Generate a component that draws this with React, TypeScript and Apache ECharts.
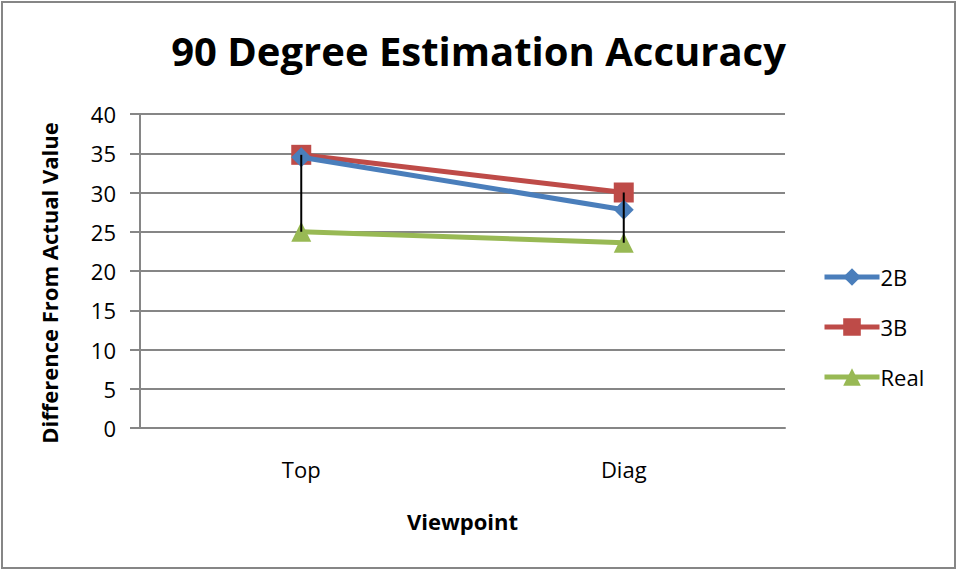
import React, { useEffect, useRef } from "react";
import * as echarts from "echarts";

const categories = ["Top", "Diag"];
const series2B = [34.5, 27.8];
const series3B = [34.8, 30.0];
const seriesReal = [25.0, 23.6];
const seriesNames = ["2B", "3B", "Real"];

const FONT = "'Open Sans', Lato, sans-serif";

export default function App() {
  const ref = useRef<HTMLDivElement>(null);
  useEffect(() => {
    if (!ref.current) return;
    const chart = echarts.init(ref.current, null, { renderer: "svg" });
    const all = [series2B, series3B, seriesReal];
    const hiLo = categories.map((_, i) => {
      const vals = all.map((s) => s[i]);
      return [i, Math.max(...vals), Math.min(...vals)];
    });
    chart.setOption({
      animation: false,
      backgroundColor: "#ffffff",
      textStyle: { fontFamily: FONT },
      title: {
        text: "90 Degree Estimation Accuracy",
        left: "center",
        top: 25,
        textStyle: { fontFamily: FONT, fontSize: 40, fontWeight: "bold", color: "#000" },
      },
      graphic: [
        {
          type: "rect",
          shape: { x: 2, y: 2, width: 953, height: 566 },
          style: { fill: "none", stroke: "#868686", lineWidth: 2 },
          silent: true,
        },
      ],
      legend: {
        orient: "vertical",
        left: 822,
        top: 266,
        padding: 0,
        itemWidth: 55,
        itemHeight: 22,
        itemGap: 28,
        data: seriesNames,
        lineStyle: { width: 5 },
        textStyle: { fontFamily: FONT, fontSize: 22, color: "#000", padding: [0, 0, 0, -4] },
      },
      grid: { left: 140, right: 172, top: 114, bottom: 143 },
      xAxis: {
        type: "category",
        data: categories,
        boundaryGap: true,
        name: "Viewpoint",
        nameLocation: "middle",
        nameGap: 82,
        nameTextStyle: { fontFamily: FONT, fontSize: 22, fontWeight: "bold", color: "#000" },
        axisLine: { lineStyle: { color: "#868686", width: 2 } },
        axisTick: { show: false },
        axisLabel: { fontFamily: FONT, fontSize: 22, color: "#000", margin: 30 },
      },
      yAxis: {
        type: "value",
        min: 0,
        max: 40,
        interval: 5,
        name: "Difference From Actual Value",
        nameLocation: "middle",
        nameGap: 80,
        nameTextStyle: {
          fontFamily: FONT,
          fontSize: 22,
          fontWeight: "bold",
          color: "#000",
          padding: [0, 24, 0, 0],
        },
        axisLine: { show: true, lineStyle: { color: "#868686", width: 2 } },
        axisTick: { show: true, length: 10, lineStyle: { color: "#868686", width: 2 } },
        axisLabel: { fontFamily: FONT, fontSize: 22, color: "#000", margin: 24 },
        splitLine: { lineStyle: { color: "#868686", width: 2 } },
      },
      series: [
        {
          name: "2B",
          type: "line",
          data: series2B,
          symbol: "diamond",
          symbolSize: 20,
          lineStyle: { color: "#4A7EBB", width: 5 },
          itemStyle: { color: "#4A7EBB" },
          z: 3,
        },
        {
          name: "3B",
          type: "line",
          data: series3B,
          symbol: "rect",
          symbolSize: 20,
          lineStyle: { color: "#BE4B48", width: 5 },
          itemStyle: { color: "#BE4B48" },
          z: 2,
        },
        {
          name: "Real",
          type: "line",
          data: seriesReal,
          symbol: "triangle",
          symbolSize: 20,
          lineStyle: { color: "#98B954", width: 5 },
          itemStyle: { color: "#98B954" },
          z: 4,
        },
        {
          name: "hilo",
          type: "custom",
          data: hiLo,
          z: 10,
          renderItem: (params: any, api: any) => {
            const top = api.coord([api.value(0), api.value(1)]);
            const bot = api.coord([api.value(0), api.value(2)]);
            return {
              type: "line",
              shape: { x1: top[0], y1: top[1], x2: bot[0], y2: bot[1] },
              style: { stroke: "#000", lineWidth: 2 },
            };
          },
          encode: { x: 0, y: [1, 2] },
        },
      ],
    });
    return () => chart.dispose();
  }, []);
  return (
    <div
      ref={ref}
      style={{ position: "fixed", left: 0, top: 0, width: 957, height: 571 }}
    />
  );
}
